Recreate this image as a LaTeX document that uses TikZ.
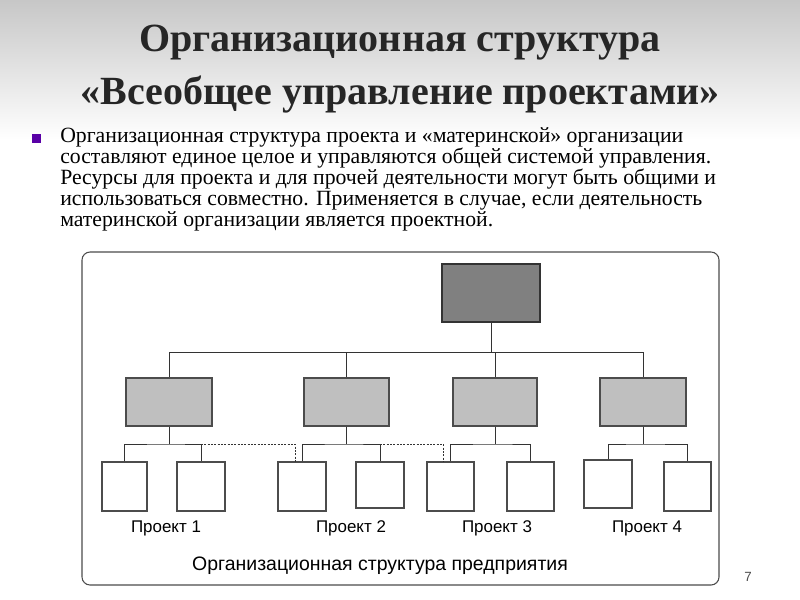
\documentclass[tikz,border=0pt]{standalone}
\usepackage{fontspec}
\setmainfont{Liberation Serif}
\newfontfamily\sans{Liberation Sans}
\begin{document}
\begin{tikzpicture}[x=0.75pt,y=-0.75pt,
  mid/.style={draw=black!70,fill=black!25,line width=0.8pt},
  leaf/.style={draw=black!70,fill=white,line width=0.8pt},
  ln/.style={draw=black!80,line width=0.6pt},
  dsh/.style={draw=black!80,line width=0.6pt,dash pattern=on 1.5pt off 1pt},
  ttl/.style={font=\bfseries\fontsize{30}{30}\selectfont,text=black!85},
  txt/.style={anchor=base west,inner sep=0pt,font=\fontsize{16.3}{16.3}\selectfont},
  lab/.style={font=\sans\fontsize{12.7}{12.7}\selectfont,inner sep=0pt}]
\useasboundingbox (0,0) rectangle (800,600);
\shade[top color=black!22,bottom color=white] (0,0) rectangle (800,140);
\node[ttl] (t1) at (400,43) {Организационная структура};
\node[ttl] (t2) at (400,94) {«Всеобщее управление проектами»};
\fill[violet!70!blue] (32,134) rectangle (41,143);
\node[txt] (l1) at (60,142) {Организационная структура проекта и «материнской» организации};
\node[txt] (l2) at (60,163) {составляют единое целое и управляются общей системой управления.};
\node[txt] (l3) at (60,184) {Ресурсы для проекта и для прочей деятельности могут быть общими и};
\node[txt] (l4) at (60,205) {использоваться совместно. Применяется в случае, если деятельность};
\node[txt] (l5) at (60,226) {материнской организации является проектной.};
\draw[black!70,line width=0.8pt,rounded corners=6pt,fill=white] (82,252) rectangle (719,585);
\node[draw=black!80,fill=black!50,line width=0.8pt,minimum width=73.5pt,minimum height=43.5pt,inner sep=0pt] (top) at (491,293) {};
\foreach \n/\x/\w in {m1/169/86,m2/346.5/85,m3/495/84,m4/643/86}
  \node[mid,minimum width=0.75*\w pt,minimum height=36pt,inner sep=0pt] (\n) at (\x,402) {};
\foreach \n/\x/\w/\y/\h in {a/124.5/45/486.5/49,b/201/48/486.5/49,c/302/48/486.5/49,d/380/48/485/46,e/450.5/47/486.5/49,f/530.5/47/486.5/49,g/608/48/484/48,h/687.5/47/486.5/49}
  \node[leaf,minimum width=0.75*\w pt,minimum height=0.75*\h pt,inner sep=0pt] (\n) at (\x,\y) {};
\coordinate (bus) at (491,352);
\draw[ln] (top.south) -- (bus);
\foreach \m in {m1,m2,m3,m4} \draw[ln] (bus) -| (\m.north);
\foreach \m/\l/\r in {m1/a/b,m2/c/d,m3/e/f,m4/g/h}{
  \draw[ln] (\m.south) -- (\m.south |- 0,444);
  \draw[ln] (\l.north) |- (\m.south |- 0,444) -| (\r.north);
}
\draw[dsh] (b.north |- 0,444) -- (295,444) -- (295,462);
\draw[dsh] (d.north |- 0,444) -- (443,444) -- (443,462);
\node[lab] (p1) at (166,528) {Проект 1};
\node[lab] (p2) at (351,528) {Проект 2};
\node[lab] (p3) at (497,528) {Проект 3};
\node[lab] (p4) at (647,528) {Проект 4};
\node[lab,font=\sans\fontsize{14.6}{14.6}\selectfont] (org) at (380,566) {Организационная структура предприятия};
\node[lab,font=\sans\fontsize{10}{10}\selectfont,text=black!70] (num) at (748,577) {7};
\end{tikzpicture}
\end{document}
